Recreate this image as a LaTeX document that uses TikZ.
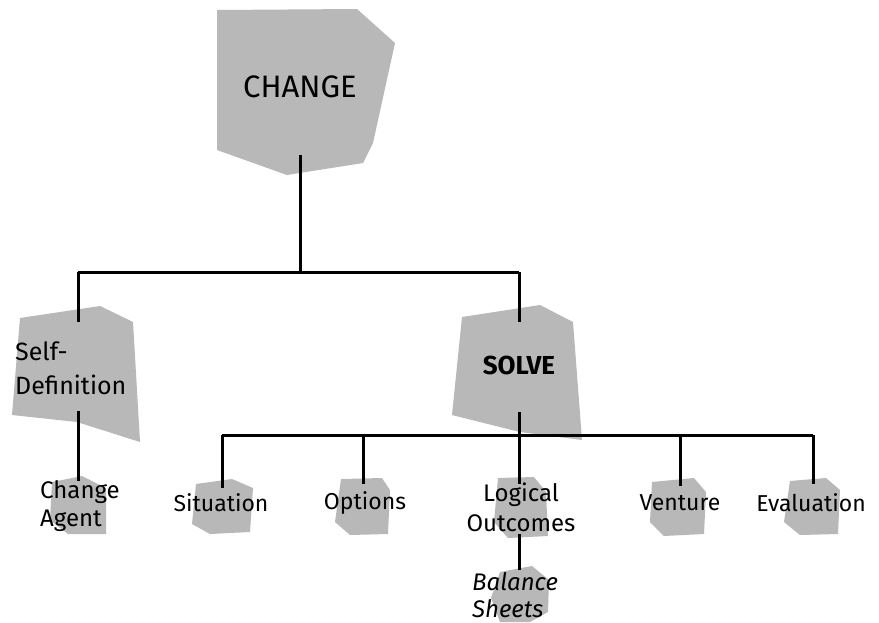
\documentclass[tikz,border=0pt]{standalone}
\usepackage{fontspec}
\setmainfont{Fira Sans}
\begin{document}
\begin{tikzpicture}[x=1pt,y=-1pt,
  blob/.style={fill=blobgray,draw=none},
  conn/.style={line width=3pt,black},
  lbl/.style={font=\fontsize{23}{26}\selectfont,inner sep=0pt,align=center},
  ]
\definecolor{blobgray}{RGB}{184,184,184}
\useasboundingbox[fill=white] (0,0) rectangle (879,622);
% shapes
\fill[blob] (217,10) -- (357,9) -- (395,43) -- (373,143) -- (363,163) -- (287,175) -- (217,150) -- cycle;
\fill[blob] (20,318) -- (100,306) -- (133,322) -- (140,442) -- (77,422) -- (12,415) -- cycle;
\fill[blob] (462,317) -- (540,305) -- (573,322) -- (582,440) -- (520,432) -- (452,415) -- cycle;
\fill[blob] (52,482) -- (82,476) -- (106,488) -- (106,534) -- (68,534) -- (50,520) -- cycle;
\fill[blob] (196,484) -- (232,479) -- (253,488) -- (250,532) -- (210,534) -- (192,524) -- cycle;
\fill[blob] (341,479) -- (382,478) -- (390,490) -- (388,534) -- (350,535) -- (335,522) -- cycle;
\fill[blob] (498,478) -- (534,477) -- (546,492) -- (548,536) -- (508,538) -- (494,522) -- cycle;
\fill[blob] (652,482) -- (694,478) -- (706,492) -- (704,534) -- (664,536) -- (650,522) -- cycle;
\fill[blob] (790,481) -- (826,478) -- (840,490) -- (838,534) -- (800,535) -- (784,522) -- cycle;
\fill[blob] (500,572) -- (532,566) -- (549,580) -- (548,612) -- (530,622) -- (500,622) -- (491,598) -- cycle;
% labels
\node[font=\fontsize{31}{34}\selectfont,inner sep=0pt] (change) at (300,87) {CHANGE};
\node[font=\fontsize{25}{34}\selectfont,inner sep=0pt,align=left,anchor=west] (selfdef) at (15,368) {Self-\\Definition};
\node[font=\bfseries\fontsize{26}{28}\selectfont,inner sep=0pt] (solve) at (519,365) {SOLVE};
\node[lbl,align=left,anchor=west,font=\fontsize{24}{28}\selectfont] (agent) at (40,506) {Change\\Agent};
\node[lbl] (situation) at (221,503) {Situation};
\node[lbl] (options) at (365,503) {Options};
\node[lbl,font=\fontsize{24}{30}\selectfont] (logical) at (521,507) {Logical\\Outcomes};
\node[lbl] (venture) at (680,503) {Venture};
\node[lbl] (evaluation) at (811,503) {Evaluation};
\node[lbl,align=left,anchor=west,font=\itshape\fontsize{24}{27}\selectfont] (balance) at (472,595) {Balance\\Sheets};
% connector points
\coordinate (cB) at (300,155);
\coordinate (hL) at (78,272);
\coordinate (hR) at (519,272);
\coordinate (sdT) at (78,322);
\coordinate (sdB) at (78,411);
\coordinate (agT) at (78,481);
\coordinate (soT) at (519,322);
\coordinate (soB) at (519,412);
\coordinate (bL) at (222,435);
\coordinate (bR) at (813,435);
\coordinate (siT) at (222,488);
\coordinate (opT) at (363,484);
\coordinate (loT) at (519,484);
\coordinate (loB) at (519,534);
\coordinate (baT) at (519,570);
\coordinate (veT) at (680,486);
\coordinate (evT) at (813,484);
% connectors
\draw[conn] (cB) -- (cB |- hL);
\draw[conn] (hL) -- (hR);
\draw[conn] (hL) -- (sdT);
\draw[conn] (hR) -- (soT);
\draw[conn] (sdB) -- (agT);
\draw[conn] (soB) -- (loT);
\draw[conn] (bL) -- (bR);
\draw[conn] (bL) -- (siT);
\draw[conn] (opT |- bL) -- (opT);
\draw[conn] (veT |- bL) -- (veT);
\draw[conn] (bR) -- (evT);
\draw[conn] (loB) -- (baT);
\end{tikzpicture}
\end{document}
